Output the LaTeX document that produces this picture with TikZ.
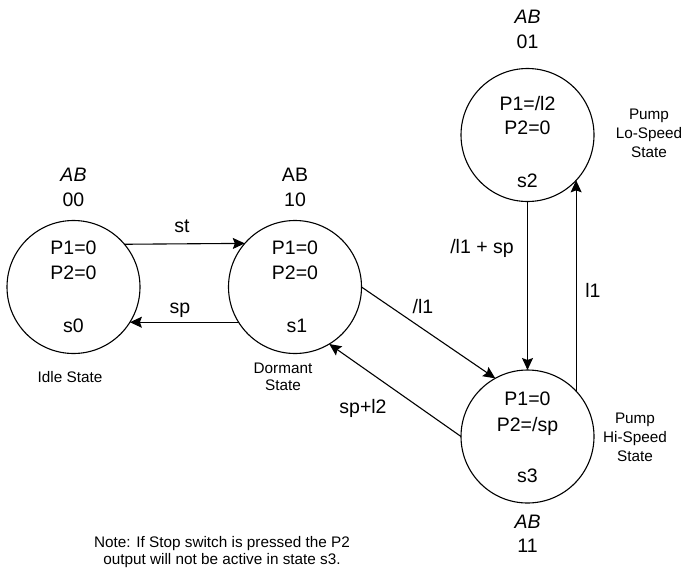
\documentclass[tikz,border=0pt]{standalone}
\usepackage{fontspec}
\setmainfont{Liberation Sans}
\usetikzlibrary{arrows.meta}
\begin{document}
\begin{tikzpicture}[x=1pt,y=-1pt,
  state/.style={circle,draw,line width=1.1pt,minimum size=133pt,inner sep=0pt,outer sep=0pt},
  big/.style={anchor=base,inner sep=0pt,font=\fontsize{19.5}{23}\selectfont},
  small/.style={anchor=base,inner sep=0pt,font=\fontsize{15.3}{18}\selectfont},
  trans/.style={line width=1.1pt,-{Stealth[length=12pt,width=11pt,inset=2pt]}}]
\useasboundingbox (0,0) rectangle (682,573);

% states
\node[state] (s0) at (73.5,287) {};
\node[state] (s1) at (295,287) {};
\node[state] (s2) at (527.5,135) {};
\node[state] (s3) at (527.5,436.5) {};

% s0
\node[big] (ab0) at (73.5,181) {\itshape AB};
\node[big] (c0) at (73.5,206) {00};
\node[big] (p10) at (73.5,254) {P1=0};
\node[big] (p20) at (73.5,279) {P2=0};
\node[big] (n0) at (73.5,332) {s0};
\node[small] (lab0) at (70,382) {Idle State};

% s1
\node[big] (ab1) at (295,181) {AB};
\node[big] (c1) at (295,206) {10};
\node[big] (p11) at (295,254) {P1=0};
\node[big] (p21) at (295,279) {P2=0};
\node[big] (n1) at (297,332) {s1};
\node[small] (lab1a) at (283,373) {Dormant};
\node[small] (lab1b) at (283,390) {State};

% s2
\node[big] (ab2) at (527.5,23) {\itshape AB};
\node[big] (c2) at (527.5,48) {01};
\node[big] (p12) at (527.5,110) {P1=/l2};
\node[big] (p22) at (527.5,134) {P2=0};
\node[big] (n2) at (527.5,187) {s2};
\node[small] (lab2a) at (649,119) {Pump};
\node[small] (lab2b) at (649,138) {Lo-Speed};
\node[small] (lab2c) at (649,157) {State};

% s3
\node[big] (p13) at (527.5,405) {P1=0};
\node[big] (p23) at (527.5,431) {P2=/sp};
\node[big] (n3) at (527.5,482) {s3};
\node[big] (ab3) at (527.5,528) {\itshape AB};
\node[big] (c3) at (527.5,552) {11};
\node[small] (lab3a) at (635,423) {Pump};
\node[small] (lab3b) at (635,442) {Hi-Speed};
\node[small] (lab3c) at (635,461) {State};

% transitions
\draw[trans] (s0.40.3) -- (s1.139.7);
\draw[trans] (s1.212.8) -- (s0.-32.8);
\draw[trans] (s1.0) -- (s3.119);
\draw[trans] (s3.180) -- (s1.-59);
\draw[trans] (s2.south) -- (s3.north);
\draw[trans] (s3.43) -- (s2.-43);

\node[big] (t1) at (182,232) {st};
\node[big] (t2) at (180,313) {sp};
\node[big] (t3) at (423,313) {/l1};
\node[big] (t4) at (363,413) {sp+l2};
\node[big] (t5) at (482,253) {/l1 + sp};
\node[big] (t6) at (593,297) {l1};

% note
\node[small] (note1) at (222,547) {Note: If Stop switch is pressed the P2};
\node[small] (note2) at (222,564) {output will not be active in state s3.};
\end{tikzpicture}
\end{document}
